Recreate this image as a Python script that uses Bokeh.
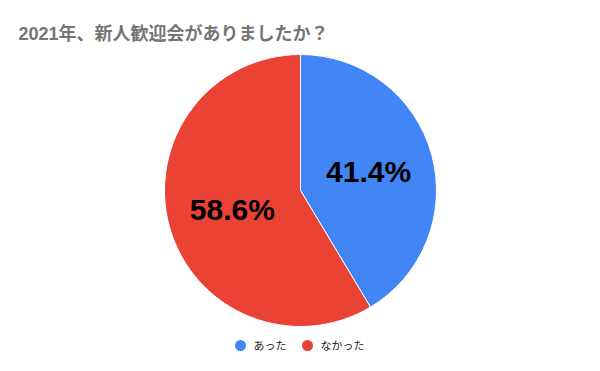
import math
from bokeh.plotting import figure
from bokeh.models import Range1d, ColumnDataSource
from bokeh.core.properties import value
from bokeh.embed import file_html
from bokeh.resources import INLINE

title_text = "2021年、新人歓迎会がありましたか？"
categories = ["あった", "なかった"]
shares = [41.4, 58.6]
colors = ["#4285F4", "#EA4335"]

W, H = 600, 371
p = figure(width=W, height=H, output_backend="svg", toolbar_location=None,
           x_range=Range1d(0, W), y_range=Range1d(0, H), min_border=0)
p.axis.visible = False
p.grid.visible = False
p.outline_line_color = None
p.background_fill_color = "white"
p.border_fill_color = "white"

cx, cy, R = 300, H - 190, 136
total = sum(shares)
starts, ends, lx, ly, labels = [], [], [], [], []
acc = 0.0
for s in shares:
    a0 = math.pi / 2 - 2 * math.pi * acc / total
    a1 = math.pi / 2 - 2 * math.pi * (acc + s) / total
    starts.append(a0)
    ends.append(a1)
    mid = (a0 + a1) / 2
    lx.append(cx + 0.52 * R * math.cos(mid))
    ly.append(cy + 0.52 * R * math.sin(mid))
    labels.append(f"{s:.1f}%")
    acc += s

src = ColumnDataSource(dict(start=starts, end=ends, color=colors, cat=categories))
p.wedge(x=cx, y=cy, radius=R, start_angle="start", end_angle="end",
        direction="clock", fill_color="color", line_color="white",
        line_width=1, source=src)

p.text(x=lx, y=ly, text=labels, text_align="center", text_baseline="middle",
       text_font=value("Liberation Sans"), text_font_style="bold",
       text_font_size="30px", text_color="black")

font = '"Liberation Sans", "Noto Sans CJK JP", sans-serif'
p.text(x=[18], y=[H - 33], text=[title_text], text_align="left",
       text_baseline="middle", text_font=value(font), text_font_style="bold",
       text_font_size="18px", text_color="#757575")

# legend
leg_x = [240, 307]
leg_y = [H - 345, H - 345]
p.scatter(x=leg_x, y=leg_y, size=11, marker="circle", fill_color=colors,
          line_color=None)
p.text(x=[x + 13 for x in leg_x], y=leg_y, text=categories, text_align="left",
       text_baseline="middle", text_font=value(font), text_font_size="11px",
       text_color="#222222")

open("out.html", "w").write(file_html(p, INLINE))
